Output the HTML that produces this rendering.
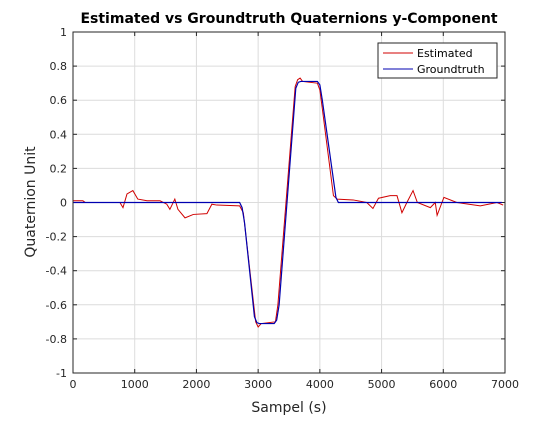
<!DOCTYPE html>
<html><head><meta charset="utf-8"><style>
body{margin:0;background:#fff;font-family:"DejaVu Sans",sans-serif}
svg text{font-family:"DejaVu Sans",sans-serif}
</style></head><body>
<svg id="c" width="560" height="420"></svg>
<script>
const xTicks=[0,1000,2000,3000,4000,5000,6000,7000];
const yTicks=[-1,-0.8,-0.6,-0.4,-0.2,0,0.2,0.4,0.6,0.8,1];
const gtX=[0,2700,2740,2780,2940,2980,3020,3260,3300,3340,3610,3650,3690,3960,4000,4040,4260,4300,6950];
const gtY=[0,0,-0.03,-0.12,-0.67,-0.705,-0.71,-0.71,-0.69,-0.6,0.67,0.705,0.71,0.71,0.69,0.6,0.03,0,0];
const estX=[0,160,200,760,810,875,970,1050,1200,1410,1520,1570,1650,1700,1815,1950,2170,2250,2330,2700,2760,2960,3000,3050,3280,3320,3600,3640,3680,3720,3960,4000,4040,4220,4280,4540,4760,4860,4950,5140,5250,5330,5410,5510,5580,5790,5870,5900,6010,6220,6600,6870,6970];
const estY=[0.01,0.01,0,0,-0.03,0.05,0.07,0.02,0.01,0.01,-0.01,-0.04,0.02,-0.04,-0.09,-0.07,-0.065,-0.01,-0.015,-0.02,-0.06,-0.7,-0.73,-0.71,-0.7,-0.6,0.68,0.72,0.73,0.71,0.7,0.66,0.55,0.04,0.02,0.015,0,-0.035,0.025,0.04,0.04,-0.06,0,0.07,0,-0.03,0,-0.075,0.03,0,-0.02,0,-0.015];
const L=73,R=505,T=32,B=373;
const sx=v=>L+(v-0)/7000*(R-L);
const sy=v=>B-(v+1)/2*(B-T);
const svg=document.getElementById('c');
const NS='http://www.w3.org/2000/svg';
function mk(t,a,p){const e=document.createElementNS(NS,t);for(const k in a)e.setAttribute(k,a[k]);(p||svg).appendChild(e);return e;}
mk('rect',{x:L,y:T,width:R-L,height:B-T,fill:'#fff'});
xTicks.forEach(v=>{const x=sx(v);
 const g=mk('line',{x1:x,x2:x,y1:T,y2:B,stroke:'#dcdcdc','stroke-width':1});
 
 mk('line',{x1:x,x2:x,y1:B,y2:B-4,stroke:'#262626'});mk('line',{x1:x,x2:x,y1:T,y2:T+4,stroke:'#262626'});
 const t=mk('text',{x:x,y:B+15,'text-anchor':'middle','font-size':11,fill:'#262626'});t.textContent=v;
 });
yTicks.forEach(v=>{const y=sy(v);
 const g=mk('line',{x1:L,x2:R,y1:y,y2:y,stroke:'#dcdcdc','stroke-width':1});
 
 mk('line',{x1:L,x2:L+4,y1:y,y2:y,stroke:'#262626'});mk('line',{x1:R,x2:R-4,y1:y,y2:y,stroke:'#262626'});
 const t=mk('text',{x:L-6,y:y+4,'text-anchor':'end','font-size':11,fill:'#262626'});t.textContent=(Math.round(v*10)/10).toString();
 });
const ep=mk('polyline',{points:estX.map((x,i)=>sx(x)+','+sy(estY[i])).join(' '),fill:'none',stroke:'#d00000','stroke-width':1});

const gp=mk('polyline',{points:gtX.map((x,i)=>sx(x)+','+sy(gtY[i])).join(' '),fill:'none',stroke:'#0000b0','stroke-width':1.2});

mk('rect',{x:L,y:T,width:R-L,height:B-T,fill:'none',stroke:'#262626','stroke-width':1});
const ti=mk('text',{x:289,y:23,'text-anchor':'middle','font-size':14,'font-weight':'bold',fill:'#000'});ti.textContent='Estimated vs Groundtruth Quaternions y-Component';

const xl=mk('text',{x:289,y:412,'text-anchor':'middle','font-size':14,fill:'#262626'});xl.textContent='Sampel (s)';

const yl=mk('text',{x:0,y:0,'text-anchor':'middle','font-size':14,fill:'#262626',transform:'translate(35,202) rotate(-90)'});yl.textContent='Quaternion Unit';

const lg=mk('g',{});
mk('rect',{x:378,y:43,width:119,height:35,fill:'#fff',stroke:'#262626','stroke-width':1},lg);
mk('line',{x1:383,x2:413,y1:53,y2:53,stroke:'#d00000'},lg);
mk('line',{x1:383,x2:413,y1:69,y2:69,stroke:'#0000b0'},lg);
const l1=mk('text',{x:417,y:57,'font-size':11,fill:'#000'},lg);l1.textContent='Estimated';

const l2=mk('text',{x:417,y:73,'font-size':11,fill:'#000'},lg);l2.textContent='Groundtruth';

</script>
</body></html>
